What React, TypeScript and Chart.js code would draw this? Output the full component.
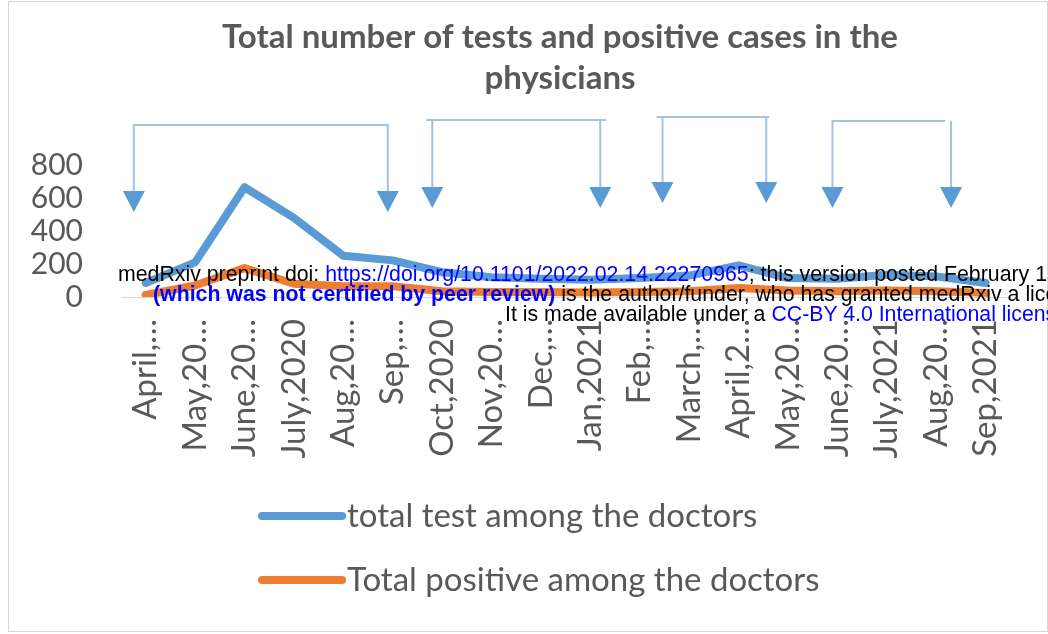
import React, { useEffect, useRef } from "react";
import { Chart, registerables } from "chart.js";

Chart.register(...registerables);

// ---- data ----
const categories = [
  "April,…", "May,20…", "June,20…", "July,2020", "Aug,20…", "Sep,…",
  "Oct,2020", "Nov,20…", "Dec,…", "Jan,2021", "Feb,…", "March,…",
  "April,2…", "May,20…", "June,20…", "July,2021", "Aug,20…", "Sep,2021",
];
const totalTests = [85, 210, 665, 480, 250, 222, 150, 120, 110, 105, 115, 130, 192, 115, 110, 135, 125, 85];
const totalPositive = [12, 70, 175, 80, 65, 65, 35, 30, 30, 28, 30, 35, 55, 40, 35, 40, 35, 25];
const yTicks = [0, 200, 400, 600, 800];
const seriesLabels = ["total test among the doctors", "Total positive among the doctors"];
const titleLines = ["Total number of tests and positive cases in the", "physicians"];

// bracket annotations, in axis units (category index, value)
const brackets = [
  { h: [-0.24, 4.9], v: [-0.24, 4.9], top: 1042, tip: 515 },
  { h: [5.7, 9.3], v: [5.8, 9.2], top: 1073, tip: 539 },
  { h: [10.36, 12.6], v: [10.46, 12.56], top: 1091, tip: 570 },
  { h: [13.9, 16.16], v: [13.9, 16.3], top: 1067, tip: 539 },
];

const GRAY = "#595959";
const BLUE = "#5b9bd5";
const ORANGE = "#ed7d31";

const titlePlugin = {
  id: "centeredTitle",
  afterDraw(chart: any) {
    const { ctx } = chart;
    ctx.save();
    ctx.fillStyle = GRAY;
    ctx.font = "bold 33px Lato";
    ctx.textAlign = "center";
    ctx.textBaseline = "middle";
    titleLines.forEach((t, i) => ctx.fillText(t, 560, 37 + i * 41));
    ctx.restore();
  },
};

const bracketPlugin = {
  id: "brackets",
  afterDatasetsDraw(chart: any) {
    const { ctx, scales } = chart;
    const x = scales.x;
    const y = scales.y;
    ctx.save();
    for (const b of brackets) {
      const top = y.getPixelForValue(b.top);
      const tip = y.getPixelForValue(b.tip);
      ctx.strokeStyle = "#a3c2e4";
      ctx.lineWidth = 2;
      ctx.beginPath();
      ctx.moveTo(x.getPixelForValue(b.h[0]) - 1, top);
      ctx.lineTo(x.getPixelForValue(b.h[1]) + 1, top);
      ctx.stroke();
      for (const vx of b.v) {
        const px = x.getPixelForValue(vx);
        ctx.strokeStyle = "#a3c2e4";
        ctx.beginPath();
        ctx.moveTo(px, top);
        ctx.lineTo(px, tip - 18);
        ctx.stroke();
        ctx.fillStyle = BLUE;
        ctx.beginPath();
        ctx.moveTo(px - 11, tip - 21);
        ctx.lineTo(px + 11, tip - 21);
        ctx.lineTo(px, tip);
        ctx.closePath();
        ctx.fill();
      }
    }
    ctx.restore();
  },
};

const legendPlugin = {
  id: "stackedLegend",
  afterDraw(chart: any) {
    const { ctx } = chart;
    const rows = [516, 580];
    ctx.save();
    chart.data.datasets.forEach((ds: any, i: number) => {
      const yy = rows[i];
      ctx.strokeStyle = ds.borderColor;
      ctx.lineWidth = 8;
      ctx.lineCap = "round";
      ctx.beginPath();
      ctx.moveTo(262, yy);
      ctx.lineTo(342, yy);
      ctx.stroke();
      ctx.fillStyle = GRAY;
      ctx.font = "33px Lato";
      ctx.textBaseline = "middle";
      ctx.textAlign = "left";
      ctx.fillText(ds.label, 347, yy);
    });
    ctx.restore();
  },
};

export default function App() {
  const ref = useRef<HTMLCanvasElement | null>(null);

  useEffect(() => {
    if (!ref.current) return;
    const chart = new Chart(ref.current, {
      type: "line",
      data: {
        labels: categories,
        datasets: [
          {
            label: seriesLabels[0],
            data: totalTests,
            borderColor: BLUE,
            backgroundColor: BLUE,
            borderWidth: 8,
            pointRadius: 0,
            tension: 0,
            borderCapStyle: "round",
            borderJoinStyle: "round",
          },
          {
            label: seriesLabels[1],
            data: totalPositive,
            borderColor: ORANGE,
            backgroundColor: ORANGE,
            borderWidth: 8,
            pointRadius: 0,
            tension: 0,
            borderCapStyle: "round",
            borderJoinStyle: "round",
          },
        ],
      },
      options: {
        animation: false,
        responsive: false,
        events: [],
        layout: { padding: { left: 0, right: 27, top: 165, bottom: 0 } },
        plugins: {
          legend: { display: false },
          tooltip: { enabled: false },
          title: { display: false },
        },
        scales: {
          x: {
            offset: true,
            grid: { display: false, drawTicks: false },
            border: { display: true, color: "#d9d9d9", width: 1 },
            ticks: {
              autoSkip: false,
              minRotation: 90,
              maxRotation: 90,
              padding: 22,
              color: GRAY,
              font: { family: "Lato", size: 33 },
            },
            afterFit: (s: any) => {
              s.height = 337;
            },
          },
          y: {
            min: 0,
            max: 800,
            grid: { display: false, drawTicks: false },
            border: { display: false },
            ticks: {
              autoSkip: false,
              padding: 38,
              color: GRAY,
              font: { family: "Lato", size: 30 },
            },
            afterBuildTicks: (s: any) => {
              s.ticks = yTicks.map((v) => ({ value: v }));
            },
            afterFit: (s: any) => {
              s.width = 121;
            },
          },
        },
      },
      plugins: [bracketPlugin, legendPlugin, titlePlugin],
    });
    return () => chart.destroy();
  }, []);

  const lineStyle: React.CSSProperties = {
    position: "absolute",
    whiteSpace: "nowrap",
    fontFamily: '"Liberation Sans", Arial, sans-serif',
    fontSize: 21.3,
    lineHeight: "21px",
    color: "#000",
  };
  const link: React.CSSProperties = { color: "#0000ff" };

  return (
    <div
      style={{
        position: "fixed",
        left: 0,
        top: 0,
        width: 1048,
        height: 634,
        overflow: "hidden",
        background: "#fff",
      }}
    >
      <canvas ref={ref} width={1048} height={634} style={{ position: "absolute", left: 0, top: 0 }} />
      <div
        style={{
          position: "absolute",
          left: 8,
          top: 1,
          width: 1038,
          height: 629,
          border: "1px solid #d6d6d6",
          pointerEvents: "none",
        }}
      />
      <div style={{ ...lineStyle, left: 118, top: 264 }}>
        medRxiv preprint doi: <span style={link}>https://doi.org/10.1101/2022.02.14.22270965</span>; this version posted February 15, 2022. The copyright holder for this preprint
      </div>
      <div style={{ ...lineStyle, left: 153, top: 284 }}>
        <span style={{ ...link, fontWeight: "bold" }}>(which was not certified by peer review)</span> is the author/funder, who has granted medRxiv a license to display the preprint in perpetuity.
      </div>
      <div style={{ ...lineStyle, left: 505, top: 304 }}>
        It is made available under a <span style={link}>CC-BY 4.0 International license</span> .
      </div>
    </div>
  );
}
